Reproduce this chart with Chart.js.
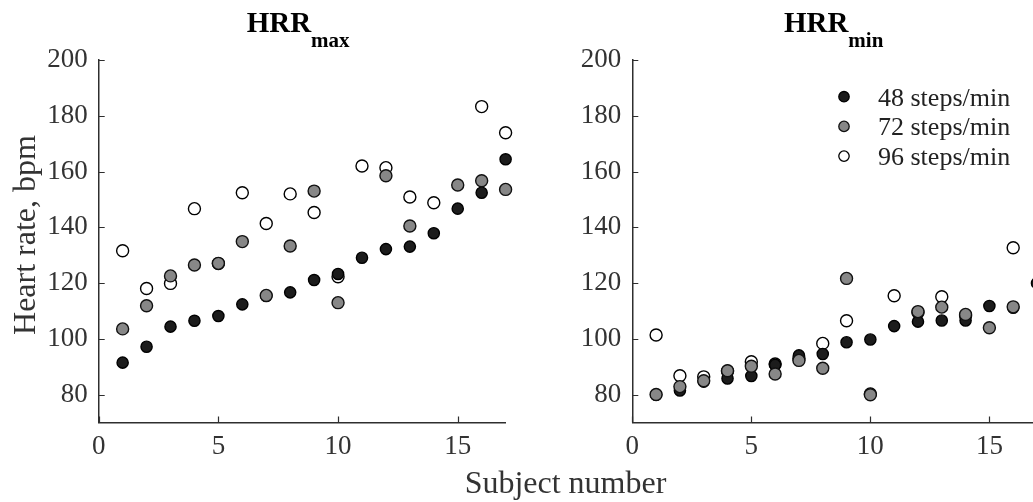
<!DOCTYPE html>
<html>
<head>
<meta charset="utf-8">
<title>Heart rate by subject</title>
<script src="https://cdn.jsdelivr.net/npm/chart.js@4/dist/chart.umd.min.js"></script>
<style>
  html, body { margin: 0; padding: 0; background: #fff; overflow: hidden; width: 1033px; height: 502px; }
  #wrap { position: relative; width: 1033px; height: 502px; overflow: hidden; }
  #cMax { position: absolute; left: 0; top: 0; }
  #cMin { position: absolute; left: 520px; top: 0; }
</style>
</head>
<body>
<div id="wrap">
  <canvas id="cMax" width="700" height="502"></canvas>
  <canvas id="cMin" width="560" height="502"></canvas>
</div>
<script>
// Subject numbers on the x axis
const subjects = [1, 2, 3, 4, 5, 6, 7, 8, 9, 10, 11, 12, 13, 14, 15, 16, 17];

// HRR max (bpm) per subject, one array per stepping rate
const max48 = [91.5, 97.2, 104.4, 106.5, 108.2, 112.4, 115.4, 116.7, 121.1, 123.3, 129.1, 132.2, 133.1, 137.9, 146.7, 152.4, 164.4];
const max72 = [103.6, 111.9, 122.6, 126.5, 127.1, 134.9, 115.6, 133.3, 153.0, 113.0, null, 158.5, 140.5, null, 155.2, 156.7, 153.6];
const max96 = [131.6, 118.1, 119.9, 146.7, 127.0, 152.4, 141.4, 152.0, 145.3, 122.3, 162.0, 161.4, 150.9, 148.8, null, 183.3, 173.9];

// HRR min (bpm) per subject
const min48 = [80.0, 81.5, 84.7, 85.8, 86.7, 90.7, 94.1, 94.6, 98.8, 99.8, 104.6, 106.2, 106.6, 106.6, 111.8, 111.2, 120.0];
const min72 = [80.1, 82.9, 85.0, 88.6, 90.2, 87.4, 92.3, 89.5, 121.7, 80.0, null, 109.8, 111.4, 108.8, 104.0, 111.5, null];
const min96 = [101.4, 86.8, 86.4, 88.4, 91.8, 91.0, 93.0, 98.4, 106.5, 80.3, 115.5, 109.5, 115.1, 108.3, null, 132.7, null];

// Series names and axis ticks
const seriesNames = ['48 steps/min', '72 steps/min', '96 steps/min'];
const xTicks = [0, 5, 10, 15];
const yTicks = [80, 100, 120, 140, 160, 180, 200];

const SERIF = "'Liberation Serif', 'Times New Roman', serif";
const AXIS = '#2e2e2e';
const styles = [
  { bg: '#1c1c1c', border: '#000', r: 5.6 },
  { bg: '#878787', border: '#111', r: 6.0 },
  { bg: '#ffffff', border: '#000', r: 6.0 }
];

function toPoints(values) {
  const pts = [];
  subjects.forEach((s, i) => { if (values[i] !== null) pts.push({ x: s, y: values[i] }); });
  return pts;
}

function makeDatasets(series) {
  return series.map((vals, i) => ({
    label: seriesNames[i],
    data: toPoints(vals),
    backgroundColor: styles[i].bg,
    borderColor: styles[i].border,
    borderWidth: 1.4,
    pointRadius: styles[i].r,
    pointHoverRadius: styles[i].r,
    clip: false,
    // grey marks on top, then dark, open circles underneath
    order: [2, 1, 3][i]
  }));
}

// Short tick marks pointing into the plot area
const inwardTicks = {
  id: 'inwardTicks',
  beforeDatasetsDraw(chart) {
    const { ctx, chartArea: a, scales } = chart;
    ctx.save();
    ctx.strokeStyle = AXIS;
    ctx.lineWidth = 1.2;
    ctx.beginPath();
    yTicks.forEach(v => {
      const py = Math.round(scales.y.getPixelForValue(v)) + 0.5;
      ctx.moveTo(a.left, py); ctx.lineTo(a.left + 6, py);
    });
    xTicks.forEach(v => {
      const px = Math.round(scales.x.getPixelForValue(v)) + 0.5;
      ctx.moveTo(px, a.bottom); ctx.lineTo(px, a.bottom - 6);
    });
    ctx.stroke();
    ctx.restore();
  }
};

function drawTitle(chart, main, sub, shift) {
  const { ctx, chartArea: a } = chart;
  ctx.save();
  ctx.fillStyle = '#000';
  ctx.textAlign = 'left';
  ctx.textBaseline = 'alphabetic';
  ctx.font = `bold 29px ${SERIF}`;
  const w1 = ctx.measureText(main).width;
  ctx.font = `bold 21px ${SERIF}`;
  const w2 = ctx.measureText(sub).width;
  const x0 = (a.left + a.right) / 2 + shift - (w1 + w2) / 2;
  ctx.font = `bold 29px ${SERIF}`;
  ctx.fillText(main, x0, 32);
  ctx.font = `bold 21px ${SERIF}`;
  ctx.fillText(sub, x0 + w1, 47);
  ctx.restore();
}

function panelOptions(axisWidth, padRight) {
  return {
    responsive: false,
    animation: false,
    devicePixelRatio: 1,
    events: [],
    layout: { padding: { left: 0, right: padRight, top: 60, bottom: 0 } },
    plugins: { legend: { display: false }, tooltip: { enabled: false } },
    scales: {
      x: {
        type: 'linear', min: 0, max: 17,
        afterBuildTicks: s => { s.ticks = xTicks.map(v => ({ value: v })); },
        afterFit: s => { s.height = 79.4; },
        grid: { display: true, drawOnChartArea: false, drawTicks: false },
        border: { display: true, color: AXIS, width: 1.5 },
        ticks: { color: '#333', padding: 8, font: { family: SERIF, size: 27 }, maxRotation: 0 }
      },
      y: {
        type: 'linear', min: 70, max: 200,
        afterBuildTicks: s => { s.ticks = yTicks.map(v => ({ value: v })); },
        afterFit: s => { s.width = axisWidth; },
        grid: { display: true, drawOnChartArea: false, drawTicks: false },
        border: { display: true, color: AXIS, width: 1.5 },
        ticks: { color: '#333', padding: 11, font: { family: SERIF, size: 27 } }
      }
    }
  };
}

// Left panel: HRR max, with the shared axis titles
const maxTexts = {
  id: 'maxTexts',
  afterDraw(chart) {
    drawTitle(chart, 'HRR', 'max', -4);
    const ctx = chart.ctx;
    ctx.save();
    ctx.fillStyle = '#333';
    ctx.font = `32px ${SERIF}`;
    ctx.textAlign = 'center';
    ctx.textBaseline = 'alphabetic';
    ctx.translate(35, 235);
    ctx.rotate(-Math.PI / 2);
    ctx.fillText('Heart rate, bpm', 0, 0);
    ctx.restore();
    ctx.save();
    ctx.fillStyle = '#333';
    ctx.font = `32px ${SERIF}`;
    ctx.textAlign = 'center';
    ctx.textBaseline = 'alphabetic';
    ctx.fillText('Subject number', 565.5, 493);
    ctx.restore();
  }
};

// Right panel: HRR min, with the series key
const minTexts = {
  id: 'minTexts',
  afterDraw(chart) {
    drawTitle(chart, 'HRR', 'min', -1);
    const ctx = chart.ctx;
    chart.data.datasets.forEach((ds, i) => {
      const y = 96.7 + i * 29.7;
      ctx.save();
      ctx.beginPath();
      ctx.arc(324, y, 5.2, 0, Math.PI * 2);
      ctx.fillStyle = ds.backgroundColor;
      ctx.fill();
      ctx.lineWidth = 1.3;
      ctx.strokeStyle = ds.borderColor;
      ctx.stroke();
      ctx.fillStyle = '#222';
      ctx.font = `26px ${SERIF}`;
      ctx.textAlign = 'left';
      ctx.textBaseline = 'alphabetic';
      ctx.fillText(ds.label, 358, y + 9);
      ctx.restore();
    });
  }
};

new Chart(document.getElementById('cMax'), {
  type: 'scatter',
  data: { datasets: makeDatasets([max48, max72, max96]) },
  options: panelOptions(98.7, 700 - 505.6),
  plugins: [inwardTicks, maxTexts]
});

new Chart(document.getElementById('cMin'), {
  type: 'scatter',
  data: { datasets: makeDatasets([min48, min72, min96]) },
  options: panelOptions(112.3, 560 - 517),
  plugins: [inwardTicks, minTexts]
});
</script>
</body>
</html>
